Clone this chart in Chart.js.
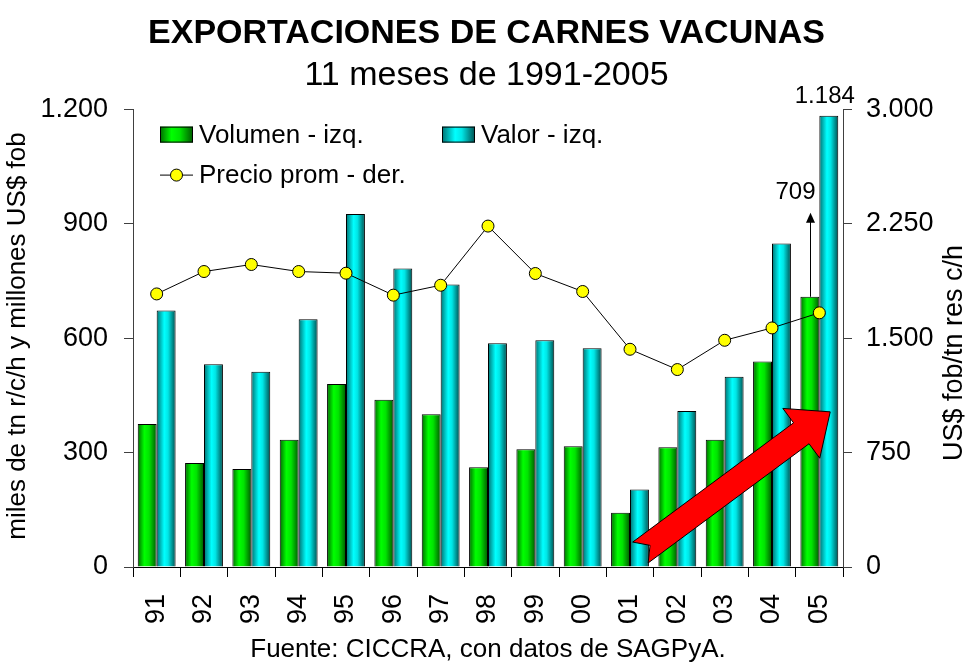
<!DOCTYPE html>
<html>
<head>
<meta charset="utf-8">
<script src="https://cdn.jsdelivr.net/npm/chart.js@4.4.1/dist/chart.umd.min.js"></script>
<style>
  html, body { margin: 0; padding: 0; background: #fff; }
  #wrap { width: 973px; height: 664px; }
</style>
</head>
<body>
<div id="wrap"><canvas id="chart" width="973" height="664"></canvas></div>
<script>
// datos (11 meses de cada año)
const years = ['91', '92', '93', '94', '95', '96', '97', '98', '99', '00', '01', '02', '03', '04', '05'];
const volumen = [375, 273, 257, 334, 480, 439, 401, 262, 309, 317, 142, 314, 334, 539, 709];
const valor = [673, 532, 512, 650, 926, 783, 741, 587, 595, 574, 203, 409, 499, 849, 1184];
const precio = [1791, 1938, 1984, 1938, 1927, 1783, 1848, 2236, 1925, 1807, 1428, 1295, 1487, 1568, 1667];

const leftTicks = [0, 300, 600, 900, 1200];
const rightTicks = [0, 750, 1500, 2250, 3000];

// flecha roja: cola y punta en coordenadas de datos (indice de categoria, valor izq.)
const arrowTail = [10.22, 38];
const arrowTip = [14.23, 407];

const FONT = 'Arial, "Liberation Sans", sans-serif';

function fmt(n) {
    return String(n).replace(/\B(?=(\d{3})+(?!\d))/g, '.');
}

const greenStops = [[0, '#006a00'], [0.35, '#00ff00'], [0.6, '#00e400'], [1, '#005800']];
const cyanStops = [[0, '#007070'], [0.4, '#00ffff'], [0.6, '#00e6e6'], [1, '#005050']];

function hGradient(ctx, x0, x1, stops) {
    const g = ctx.createLinearGradient(x0, 0, x1, 0);
    stops.forEach(s => g.addColorStop(s[0], s[1]));
    return g;
}

// degradado horizontal en cada barra
const barShading = {
    id: 'barShading',
    afterDatasetsUpdate(chart) {
        chart.data.datasets.forEach((ds, i) => {
            if (!ds.stops) return;
            chart.getDatasetMeta(i).data.forEach(el => {
                const left = el.x - el.width / 2;
                const right = el.x + el.width / 2;
                el.options = Object.assign({}, el.options, {
                    backgroundColor: hGradient(chart.ctx, left, right, ds.stops)
                });
            });
        });
    }
};

// leyenda dentro del area, titulos de ejes, fuente, anotaciones
const extras = {
    id: 'extras',
    afterDatasetsDraw(chart) {
        const ctx = chart.ctx;
        const xs = chart.scales.x;
        const ys = chart.scales.y;

        // flecha roja
        const t = [xs.getPixelForValue(arrowTail[0]), ys.getPixelForValue(arrowTail[1])];
        const p = [xs.getPixelForValue(arrowTip[0]), ys.getPixelForValue(arrowTip[1])];
        const len = Math.hypot(p[0] - t[0], p[1] - t[1]);
        const u = [(p[0] - t[0]) / len, (p[1] - t[1]) / len];
        const n = [-u[1], u[0]];
        const sw = 13, hw = 31, hl = 36, notch = 12;
        const pt = (base, a, b) => [base[0] + u[0] * a + n[0] * b, base[1] + u[1] * a + n[1] * b];
        const poly = [
            pt(t, 0, sw), pt(p, -hl, sw), pt(p, -hl, hw), p,
            pt(p, -hl, -hw), pt(p, -hl, -sw), pt(t, 0, -sw), pt(t, notch, 0)
        ];
        ctx.save();
        ctx.beginPath();
        poly.forEach((q, i) => i ? ctx.lineTo(q[0], q[1]) : ctx.moveTo(q[0], q[1]));
        ctx.closePath();
        ctx.fillStyle = '#ff0000';
        ctx.fill();
        ctx.lineWidth = 1;
        ctx.strokeStyle = '#000';
        ctx.stroke();
        ctx.restore();

        // flecha y rotulo del ultimo volumen
        const last = volumen.length - 1;
        const gEl = chart.getDatasetMeta(1).data[last];
        const cEl = chart.getDatasetMeta(2).data[last];
        ctx.save();
        ctx.strokeStyle = '#000';
        ctx.fillStyle = '#000';
        ctx.lineWidth = 1;
        const ax = Math.round(gEl.x) + 0.5;
        const tipY = gEl.y - 84;
        ctx.beginPath();
        ctx.moveTo(ax, gEl.y);
        ctx.lineTo(ax, tipY + 8);
        ctx.stroke();
        ctx.beginPath();
        ctx.moveTo(ax, tipY);
        ctx.lineTo(ax - 4.5, tipY + 10);
        ctx.lineTo(ax + 4.5, tipY + 10);
        ctx.closePath();
        ctx.fill();
        ctx.font = '24px ' + FONT;
        ctx.textAlign = 'center';
        ctx.textBaseline = 'middle';
        ctx.fillText(fmt(volumen[last]), ax - 15, tipY - 20);
        ctx.fillText(fmt(valor[last]), cEl.x - 4, cEl.y - 19);
        ctx.restore();
    },
    afterDraw(chart) {
        const ctx = chart.ctx;
        const area = chart.chartArea;
        ctx.save();
        ctx.fillStyle = '#000';
        ctx.textBaseline = 'middle';

        // leyenda
        const lx = area.left + 27, ly = area.top + 25;
        const items = [
            { kind: 'bar', stops: greenStops, x: lx, y: ly, text: 'Volumen - izq.' },
            { kind: 'bar', stops: cyanStops, x: lx + 282, y: ly, text: 'Valor - izq.' },
            { kind: 'line', x: lx, y: ly + 40, text: 'Precio prom - der.' }
        ];
        ctx.font = '26px ' + FONT;
        ctx.textAlign = 'left';
        items.forEach(it => {
            if (it.kind === 'bar') {
                ctx.fillStyle = hGradient(ctx, it.x, it.x + 33, it.stops);
                ctx.fillRect(it.x, it.y - 8, 33, 16);
                ctx.strokeStyle = '#000';
                ctx.lineWidth = 1;
                ctx.strokeRect(it.x + 0.5, it.y - 7.5, 32, 15);
            } else {
                ctx.strokeStyle = '#000';
                ctx.lineWidth = 1;
                ctx.beginPath();
                ctx.moveTo(it.x, it.y + 0.5);
                ctx.lineTo(it.x + 33, it.y + 0.5);
                ctx.stroke();
                ctx.beginPath();
                ctx.arc(it.x + 16.5, it.y + 0.5, 6, 0, Math.PI * 2);
                ctx.fillStyle = '#ffff00';
                ctx.fill();
                ctx.stroke();
            }
            ctx.fillStyle = '#000';
            ctx.fillText(it.text, it.x + 39, it.y + 1);
        });

        // titulos de ejes (ambos leidos de abajo hacia arriba)
        ctx.textAlign = 'center';
        ctx.font = '26px ' + FONT;
        ctx.save();
        ctx.translate(18, 336);
        ctx.rotate(-Math.PI / 2);
        ctx.fillText('miles de tn r/c/h y millones US$ fob', 0, 0);
        ctx.restore();
        ctx.font = '27px ' + FONT;
        ctx.save();
        ctx.translate(955, 353);
        ctx.rotate(-Math.PI / 2);
        ctx.fillText('US$ fob/tn res c/h', 0, 0);
        ctx.restore();

        // fuente
        ctx.font = '26px ' + FONT;
        ctx.fillText('Fuente: CICCRA, con datos de SAGPyA.', 488, 650);
        ctx.restore();
    }
};

const ctx = document.getElementById('chart').getContext('2d');
new Chart(ctx, {
    type: 'bar',
    data: {
        labels: years,
        datasets: [
            {
                type: 'line',
                label: 'Precio prom - der.',
                data: precio,
                yAxisID: 'y1',
                borderColor: '#000',
                borderWidth: 1,
                pointRadius: 6,
                pointBackgroundColor: '#ffff00',
                pointBorderColor: '#000',
                pointBorderWidth: 1,
                tension: 0
            },
            {
                label: 'Volumen - izq.',
                data: volumen,
                yAxisID: 'y',
                stops: greenStops,
                backgroundColor: '#00cc00',
                borderColor: '#000',
                borderWidth: 1,
                categoryPercentage: 0.8,
                barPercentage: 1.0
            },
            {
                label: 'Valor - izq.',
                data: valor,
                yAxisID: 'y',
                stops: cyanStops,
                backgroundColor: '#00cccc',
                borderColor: '#000',
                borderWidth: 1,
                categoryPercentage: 0.8,
                barPercentage: 1.0
            }
        ]
    },
    options: {
        responsive: false,
        animation: false,
        layout: { padding: { left: 0, right: 0, top: 0, bottom: 37 } },
        plugins: {
            legend: { display: false },
            tooltip: { enabled: false },
            title: {
                display: true,
                text: 'EXPORTACIONES DE CARNES VACUNAS',
                color: '#000',
                font: { family: FONT, size: 34, weight: 'bold', lineHeight: 1.2 },
                padding: { top: 13, bottom: 1 }
            },
            subtitle: {
                display: true,
                text: '11 meses de 1991-2005',
                color: '#000',
                font: { family: FONT, size: 34, lineHeight: 1.2 },
                padding: { top: 0, bottom: 14 }
            }
        },
        scales: {
            x: {
                offset: true,
                grid: { display: true, drawOnChartArea: false, offset: true, tickLength: 10, color: '#000' },
                border: { color: '#000' },
                ticks: { color: '#000', font: { family: FONT, size: 27 }, maxRotation: 90, minRotation: 90, padding: 17 },
                afterFit: s => { s.height = 60; }
            },
            y: {
                position: 'left',
                min: 0,
                max: 1200,
                afterBuildTicks: s => { s.ticks = leftTicks.map(v => ({ value: v })); },
                grid: { drawOnChartArea: false, tickLength: 9, color: '#404040' },
                border: { color: '#404040' },
                ticks: { color: '#000', font: { family: FONT, size: 27 }, padding: 16, callback: v => fmt(v) },
                afterFit: s => { s.width = 133; }
            },
            y1: {
                position: 'right',
                min: 0,
                max: 3000,
                afterBuildTicks: s => { s.ticks = rightTicks.map(v => ({ value: v })); },
                grid: { drawOnChartArea: false, tickLength: 9, color: '#404040' },
                border: { color: '#404040' },
                ticks: { color: '#000', font: { family: FONT, size: 27 }, padding: 14, callback: v => fmt(v) },
                afterFit: s => { s.width = 130; }
            }
        }
    },
    plugins: [barShading, extras]
});
</script>
</body>
</html>
